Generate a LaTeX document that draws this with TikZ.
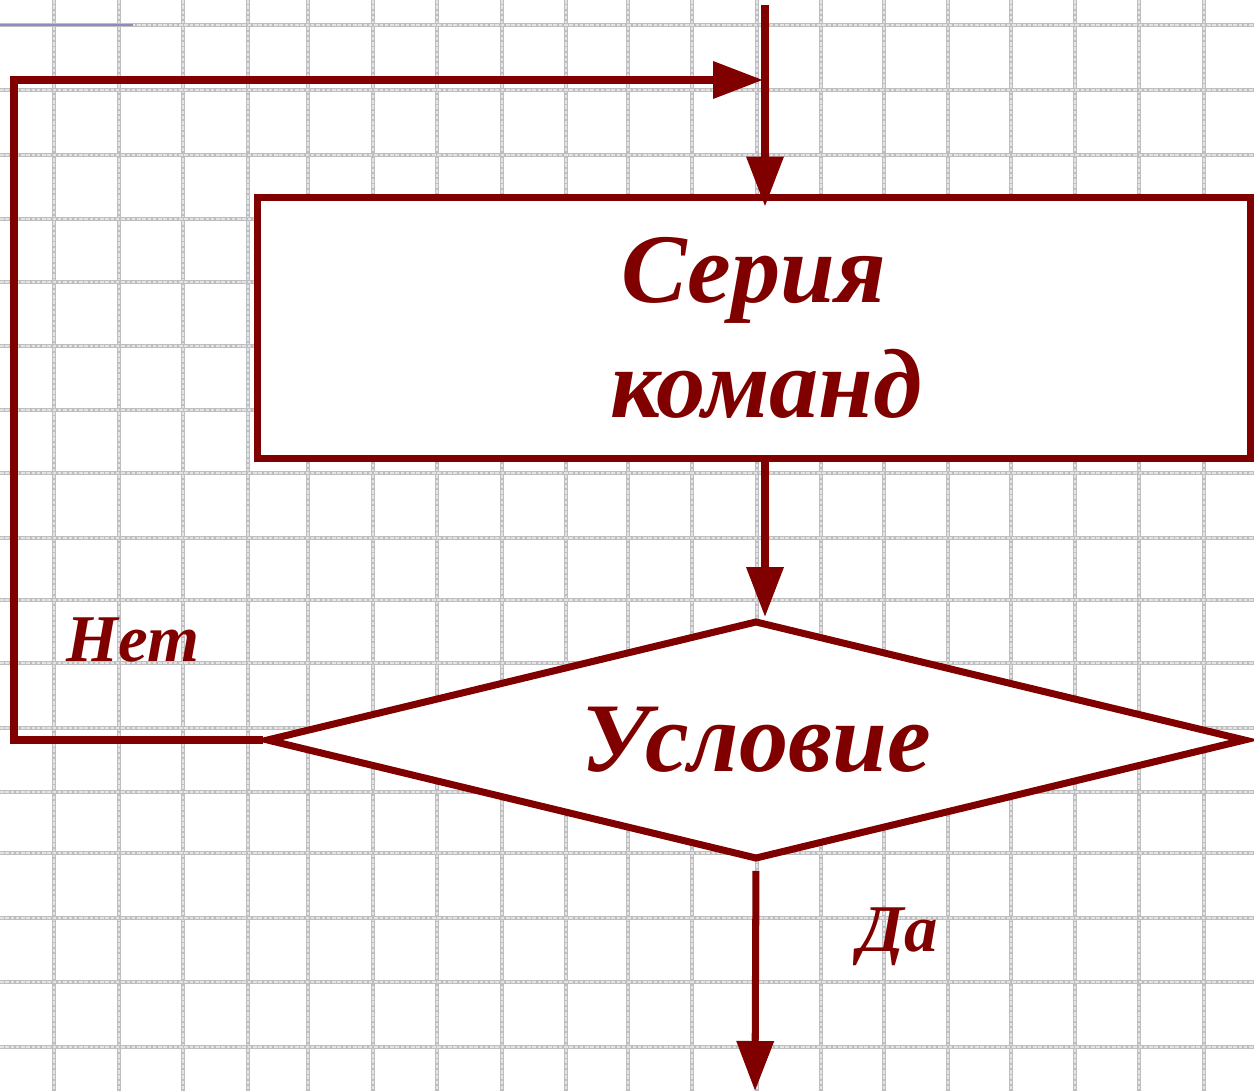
\documentclass[tikz,border=0pt]{standalone}
\usepackage{fontspec}
\setmainfont{Liberation Serif}
\usetikzlibrary{arrows.meta, shapes.geometric}
\definecolor{darkred}{RGB}{128,0,0}
\definecolor{gridgray}{RGB}{190,190,192}
\definecolor{gridmid}{RGB}{228,228,228}
\definecolor{slideblue}{RGB}{140,140,190}
\tikzset{
    blk/.style={draw=darkred, line width=4pt, fill=white, inner sep=0pt, minimum width=19.88cm, minimum height=5.24cm, align=center, text=darkred, font=\fontsize{56}{65}\selectfont\bfseries\itshape},
    cnd/.style={diamond, aspect=4.1, draw=darkred, line width=4pt, fill=white, inner sep=0pt, minimum width=19.6cm, minimum height=4.78cm, text=darkred, font=\fontsize{56}{65}\selectfont\bfseries\itshape},
    lbl/.style={text=darkred, font=\fontsize{38}{40}\selectfont\bfseries\itshape},
    flow/.style={draw=darkred, line width=4pt, -{Triangle[length=1cm, width=0.72cm]}},
    gridln/.style={draw=gridgray, line width=2.2pt},
    gridmd/.style={draw=gridmid, line width=0.6pt, dash pattern=on 2pt off 1pt}
}
\begin{document}
\begin{tikzpicture}[x=0.02cm, y=-0.02cm]
            \useasboundingbox (0,0) rectangle (1254,1091);
            % squared paper
            \foreach \gx in {54,119,183,248,308,373,437,502,566,628,692,757,821,884,948,1011,1075,1139,1204} {
                \draw[gridln] (\gx,0) -- (\gx,1091);
                \draw[gridmd] (\gx,0) -- (\gx,1091);
            }
            \foreach \gy in {25,90,155,219,282,346,410,473,538,600,663,728,792,853,918,982,1047} {
                \draw[gridln] (0,\gy) -- (1254,\gy);
                \draw[gridmd] (0,\gy) -- (1254,\gy);
            }
            \draw[slideblue, line width=1.6pt] (0,25) -- (133,25);

            \node[blk] (ser) at (754,328) {Серия\\\hspace*{0.5cm}команд};
            \node[cnd] (cond) at (756,740) {Условие};
            \node[lbl] (no) at (133,640) {Нет};
            \node[lbl] (yes) at (898,937) {Да};

            \coordinate (entry) at (765,5);
            \coordinate (tl) at (14,80);
            \coordinate (join) at (763,80);
            \coordinate (exit) at (755,1091);

            \draw[flow] (entry) -- ([yshift=-0.26cm]ser.north -| entry);
            \draw[flow] (ser.south -| entry) -- (cond.north -| entry);
            \draw[flow] (cond.west) -| (tl) -- (join);
            \draw[flow, shorten <=0.16cm] (cond.south) -- (exit);
        \end{tikzpicture}
\end{document}
